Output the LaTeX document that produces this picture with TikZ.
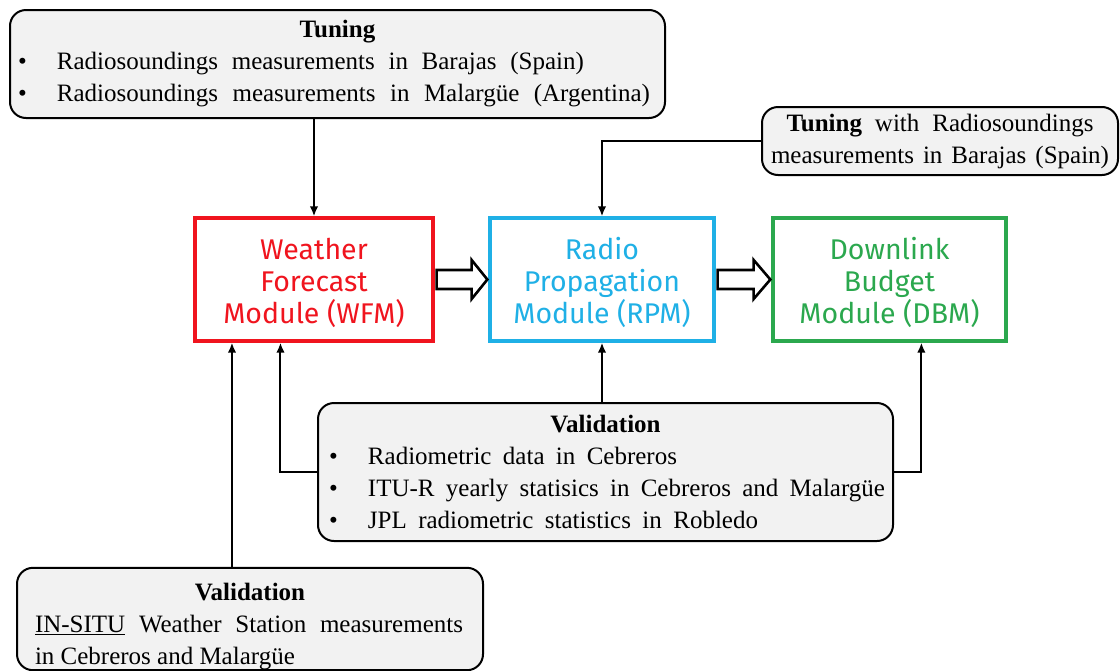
\documentclass[tikz,border=0pt]{standalone}
\usepackage{fontspec}
\setmainfont{Liberation Serif}
\newfontfamily\modfont{Fira Sans}
\usetikzlibrary{arrows.meta,calc}
\definecolor{wfmred}{HTML}{F0141E}
\definecolor{rpmblue}{HTML}{1FB0E6}
\definecolor{dbmgreen}{HTML}{2BA84E}
\definecolor{boxgray}{HTML}{F2F2F2}
\newcommand\bl[2]{\makebox[39pt][l]{\textbullet}\makebox[#1][s]{#2}}
\tikzset{
  gbox/.style={draw=black, line width=2pt, fill=boxgray, rounded corners=16pt,
    inner sep=0pt, align=center, font=\fontsize{25}{32}\selectfont},
  modbox/.style={draw, line width=3.3pt, fill=white, inner sep=0pt, align=center,
    font=\modfont\fontsize{28.5}{32}\selectfont},
  arr/.style={line width=2pt, -{Latex[length=10pt,width=8.5pt]}},
  blockarrow/.style={draw=black, line width=2.6pt, fill=white, line join=miter}
}
\begin{document}
\begin{tikzpicture}[x=1pt,y=-1pt]
\useasboundingbox (0,0) rectangle (1120,670);
% gray boxes
\node[gbox, minimum width=655pt, minimum height=108pt] (tun) at (337.5,64)
 {\textbf{Tuning}\\
  \makebox[639pt][l]{\bl{527pt}{Radiosoundings measurements in Barajas (Spain)}}\\
  \makebox[639pt][l]{\bl{593pt}{Radiosoundings measurements in Malargüe (Argentina)}}};
\node[gbox, minimum width=356pt, minimum height=68pt] (tun2) at (940,141)
 {\makebox[307pt][s]{\textbf{Tuning} with Radiosoundings}\\
  \makebox[338pt][s]{measurements in Barajas (Spain)}};
\node[gbox, minimum width=575pt, minimum height=138pt] (val) at (605.5,472)
 {\textbf{Validation}\\
  \makebox[553pt][l]{\bl{309pt}{Radiometric data in Cebreros}}\\
  \makebox[553pt][l]{\bl{517pt}{ITU-R yearly statisics in Cebreros and Malargüe}}\\
  \makebox[553pt][l]{\bl{390pt}{JPL radiometric statistics in Robledo}}};
\node[gbox, minimum width=466pt, minimum height=98pt] (bval) at (250,619)
 {\rule{0pt}{33pt}\textbf{Validation}\\
  \makebox[430pt][l]{\makebox[428pt][s]{\underline{IN-SITU} Weather Station measurements}}\\
  \makebox[430pt][l]{in Cebreros and Malargüe}};
% module boxes
\node[modbox, draw=wfmred, text=wfmred, minimum width=238pt, minimum height=123pt] (wfm) at (314,279.5)
 {\rule{0pt}{29pt}Weather\\Forecast\\Module (WFM)};
\node[modbox, draw=rpmblue, text=rpmblue, minimum width=224pt, minimum height=123pt] (rpm) at (602,279.5)
 {\rule{0pt}{29pt}Radio\\Propagation\\Module (RPM)};
\node[modbox, draw=dbmgreen, text=dbmgreen, minimum width=233pt, minimum height=123pt] (dbm) at (889.5,279.5)
 {\rule{0pt}{29pt}Downlink\\Budget\\Module (DBM)};
% attachment points
\coordinate (wfmb1) at ($(wfm.south west)!0.16!(wfm.south east)$);
\coordinate (wfmb2) at ($(wfm.south west)!0.361!(wfm.south east)$);
\coordinate (dbmb) at ($(dbm.south west)!0.635!(dbm.south east)$);
% block arrows
\draw[blockarrow] ($(wfm.east)+(2,-9.5)$) -- ++(35,0) -- ++(0,-10) -- ($(rpm.west)+(-1,0)$)
  -- ($(wfm.east)+(37,19.5)$) -- ++(0,-10) -- ($(wfm.east)+(2,9.5)$) -- cycle;
\draw[blockarrow] ($(rpm.east)+(2,-9.5)$) -- ++(36,0) -- ++(0,-10) -- ($(dbm.west)+(-1,0)$)
  -- ($(rpm.east)+(38,19.5)$) -- ++(0,-10) -- ($(rpm.east)+(2,9.5)$) -- cycle;
% connectors
\draw[arr] (tun.south -| wfm.north) -- (wfm.north);
\draw[arr] (tun2.west) -| (rpm.north);
\draw[arr] (val.north -| rpm.south) -- (rpm.south);
\draw[arr] (val.west) -| (wfmb2);
\draw[arr] (val.east) -| (dbmb);
\draw[arr] (bval.north -| wfmb1) -- (wfmb1);
\end{tikzpicture}
\end{document}
